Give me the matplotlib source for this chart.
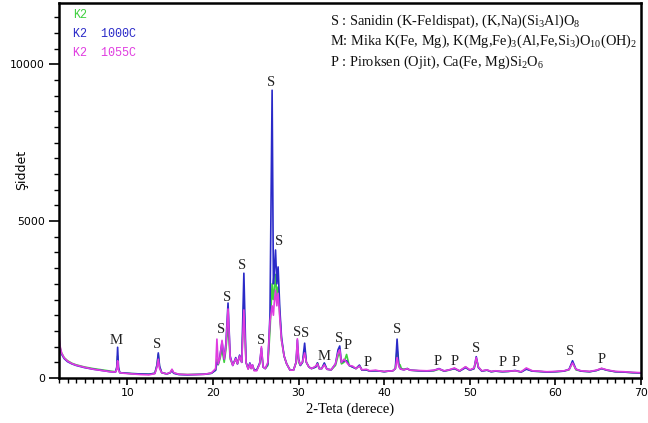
import matplotlib
matplotlib.use("Agg")
import matplotlib.pyplot as plt
from matplotlib.ticker import MultipleLocator

plt.rcParams['mathtext.fontset'] = 'custom'
plt.rcParams['mathtext.rm'] = 'Liberation Serif'
plt.rcParams['mathtext.it'] = 'Liberation Serif:italic'

# 2-theta positions (degrees)
two_theta = [
    2.0, 2.1, 2.3, 2.6, 3.0, 3.5, 4.0, 5.0, 6.0, 7.0, 8.0, 8.6,
    8.75, 8.85, 8.95, 9.1, 9.6, 10.5, 11.5, 12.5, 13.2,
    13.45, 13.6, 13.75, 14.0, 14.6, 15.0, 15.2, 15.4, 16.0, 17.0, 18.0, 19.0, 19.8, 20.3,
    20.45, 20.6, 20.8, 21.05, 21.3, 21.5, 21.75, 22.0, 22.3, 22.65, 22.85, 23.1, 23.35, 23.6,
    23.85, 24.1, 24.3, 24.45, 24.6, 24.8, 25.1, 25.45, 25.65, 25.85, 26.1, 26.4, 26.65, 26.9,
    27.05, 27.15, 27.3, 27.45, 27.6, 27.8, 28.0, 28.3, 28.6, 29.0, 29.4, 29.7, 29.85, 30.0,
    30.2, 30.45, 30.7, 30.9, 31.2, 31.5,
    32.0, 32.2, 32.4, 32.7, 33.0, 33.3, 33.8, 34.3, 34.6, 34.8, 35.0, 35.3, 35.6, 35.9, 36.3,
    36.7, 37.1, 37.4, 37.9, 38.3, 39.0, 39.5, 40.0, 40.5, 41.0, 41.3, 41.5, 41.7, 41.85, 42.0,
    42.3, 42.7, 43.0,
    44.0, 45.0, 45.8, 46.4, 47.0, 47.6, 48.2, 48.8, 49.5, 50.0, 50.5, 50.75, 51.0, 51.4, 52.0,
    52.5, 53.0, 53.8, 54.5, 55.3, 56.0, 56.6, 57.3, 58.0, 59.0, 60.0, 61.0, 61.6, 62.0, 62.4,
    63.0, 64.0, 64.8, 65.4, 66.0, 67.0, 68.0, 69.0, 70.0,
]

k2 = [
    1300, 1000, 800, 650, 550, 470, 420, 350, 300, 260, 220, 200,
    300, 700, 300, 170, 160, 140, 130, 120, 150,
    400, 750, 350, 170, 130, 170, 260, 160, 120, 110, 115, 120, 150, 250,
    600, 420, 600, 900, 500, 900, 1700, 600, 420, 600, 450, 700, 500, 2400,
    500, 300, 450, 300, 400, 250, 250, 450, 800, 350, 300, 400, 1500, 3000,
    2500, 2800, 3300, 2600, 2900, 2000, 1200, 700, 450, 250, 250, 500, 1000, 500,
    400, 500, 900, 500, 350, 300,
    350, 480, 300, 300, 460, 280, 260, 400, 700, 800, 450, 500, 750, 400, 350,
    300, 400, 250, 260, 220, 230, 220, 200, 220, 230, 300, 900, 450, 420, 300,
    280, 300, 250,
    230, 220, 230, 280, 220, 250, 300, 220, 350, 250, 300, 600, 350, 220, 250,
    200, 220, 200, 210, 230, 190, 300, 220, 210, 190, 200, 220, 260, 500, 260,
    220, 200, 240, 300, 250, 200, 190, 170, 160,
]

k2_1000c = [
    1200, 950, 760, 620, 520, 450, 400, 330, 280, 240, 200, 190,
    350, 980, 350, 170, 160, 140, 130, 120, 150,
    420, 800, 380, 170, 130, 170, 240, 150, 110, 100, 110, 120, 150, 250,
    500, 450, 700, 1150, 600, 1100, 2390, 700, 400, 650, 450, 730, 500, 3340,
    500, 300, 480, 320, 420, 250, 250, 480, 950, 350, 300, 450, 2000, 9170,
    3000, 3400, 4080, 3000, 3540, 2200, 1300, 700, 450, 250, 250, 500, 1210, 600,
    400, 500, 1110, 500, 350, 300,
    350, 480, 300, 300, 480, 280, 260, 450, 900, 1020, 500, 550, 550, 400, 350,
    300, 410, 250, 260, 220, 230, 220, 200, 220, 230, 300, 1240, 400, 300, 280,
    260, 300, 250,
    230, 220, 240, 300, 220, 260, 300, 220, 330, 250, 300, 680, 330, 220, 250,
    200, 220, 200, 210, 240, 190, 280, 220, 210, 190, 200, 220, 280, 550, 280,
    220, 200, 240, 300, 250, 200, 190, 170, 160,
]

k2_1055c = [
    1550, 1050, 800, 640, 540, 460, 410, 340, 280, 240, 200, 190,
    280, 550, 260, 170, 150, 130, 110, 100, 140,
    350, 600, 300, 170, 130, 180, 280, 170, 120, 110, 110, 120, 160, 300,
    1240, 450, 650, 1200, 600, 1000, 2200, 650, 400, 620, 450, 700, 500, 2170,
    500, 280, 450, 300, 420, 230, 230, 450, 1000, 350, 300, 500, 1800, 2300,
    2000, 2400, 2800, 2300, 2700, 1900, 1200, 700, 450, 250, 250, 500, 1250, 550,
    420, 520, 800, 500, 350, 300,
    380, 450, 300, 300, 420, 280, 260, 450, 800, 900, 500, 600, 500, 400, 380,
    300, 380, 260, 280, 230, 250, 220, 210, 220, 230, 300, 650, 380, 300, 280,
    260, 300, 250,
    240, 230, 250, 290, 230, 260, 320, 230, 360, 260, 320, 650, 350, 230, 260,
    210, 230, 210, 220, 230, 200, 320, 230, 220, 200, 210, 230, 270, 480, 280,
    230, 210, 250, 310, 260, 210, 200, 180, 170,
]

# phase marks above the peaks
peak_marks = ["M", "S", "S", "S", "S", "S", "S", "S", "S", "S", "M",
              "S", "P", "P", "S", "P", "P", "S", "P", "P", "S", "P"]
mark_x = [8.7, 13.45, 20.9, 21.7, 23.35, 25.6, 26.75, 27.75, 29.85, 30.75, 33.0,
          34.7, 35.75, 38.05, 41.45, 46.2, 48.2, 50.7, 53.8, 55.3, 61.75, 65.4]
mark_y = [1180, 1080, 1530, 2580, 3600, 1210, 9430, 4360, 1465, 1430, 700,
          1270, 1020, 480, 1530, 510, 540, 955, 480, 480, 830, 605]

phase_key = [
    r"S : Sanidin (K-Feldispat), (K,Na)(Si$_3$Al)O$_8$",
    r"M: Mika K(Fe, Mg), K(Mg,Fe)$_3$(Al,Fe,Si$_3$)O$_{10}$(OH)$_2$",
    r"P : Piroksen (Ojit), Ca(Fe, Mg)Si$_2$O$_6$",
]

series_names = ["K2", "K2  1000C", "K2  1055C"]
series_colors = ["#3fd03f", "#2a2ac8", "#e03ce0"]

fig = plt.figure(figsize=(6.48, 4.23), dpi=100)
ax = fig.add_axes([59 / 648, 1 - 378 / 423, 582 / 648, 375 / 423])

for y, c in zip([k2, k2_1000c, k2_1055c], series_colors):
    ax.plot(two_theta, y, color=c, lw=1.2)

for m, x, y in zip(peak_marks, mark_x, mark_y):
    ax.text(x, y, m, ha="center", va="center", fontsize=10.5,
            family="Liberation Serif", color="#222222")

for i, (name, c) in enumerate(zip(series_names, series_colors)):
    ax.text(0.024, 0.968 - i * 0.05, name, transform=ax.transAxes, color=c,
            fontsize=8.5, family="Liberation Mono", va="center")

for i, line in enumerate(phase_key):
    ax.text(0.466, 0.952 - i * 0.055, line, transform=ax.transAxes,
            fontsize=10.4, family="Liberation Serif", va="center", color="#111111")

ax.set_xlim(2, 70)
ax.set_ylim(0, 11950)
ax.xaxis.set_major_locator(MultipleLocator(10))
ax.xaxis.set_minor_locator(MultipleLocator(1))
ax.yaxis.set_major_locator(MultipleLocator(5000))
ax.yaxis.set_minor_locator(MultipleLocator(500))
ax.tick_params(which="major", direction="out", length=7, width=1.2, labelsize=7.8)
ax.tick_params(axis="x", which="major", length=5, pad=2)
ax.tick_params(axis="y", which="major", pad=3)
ax.tick_params(which="minor", direction="out", length=3.5, width=1.0)
for s in ax.spines.values():
    s.set_linewidth(1.8)

fig.text(350 / 648, 1 - 409 / 423, "2-Teta (derece)", ha="center", va="center",
         fontsize=10.5, family="Liberation Serif")
fig.text(22 / 648, 1 - 170 / 423, "Şiddet", ha="center", va="center",
         rotation=90, fontsize=9)

fig.savefig("out.png", dpi=100)
